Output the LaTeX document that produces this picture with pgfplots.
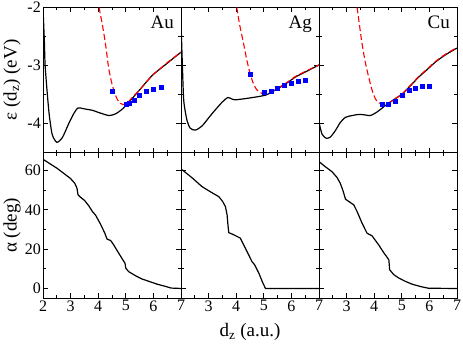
\documentclass[border=0pt]{standalone}
\usepackage{fontspec}
\setmainfont{Liberation Serif}
\usepackage{pgfplots}
\pgfplotsset{compat=1.18}
\usepgfplotslibrary{groupplots}

\pgfplotsset{
  eline/.style={black, line width=1.2pt, smooth, tension=0.4},
  fitline/.style={red, line width=1.1pt, dash pattern=on 6pt off 3pt, smooth, tension=0.4},
  pts/.style={only marks, mark=square*, mark size=2pt, blue, mark options={draw=blue, fill=blue}},
  aline/.style={black, line width=1.2pt},
  toprow/.style={ymin=-4.5, ymax=-2, ytick={-4,-3,-2}, minor y tick num=1},
  botrow/.style={ymin=-5, ymax=69, ytick={0,20,40,60}, minor y tick num=1},
}

\begin{document}
\begin{tikzpicture}
\begin{groupplot}[
  group style={group size=3 by 2, horizontal sep=0pt, vertical sep=0pt,
    xticklabels at=edge bottom, yticklabels at=edge left},
  scale only axis, width=138pt, height=145.5pt,
  xmin=2, xmax=7, xtick={2,...,7}, minor x tick num=1,
  tick align=inside, major tick length=5pt, minor tick length=3pt,
  axis line style={line width=0.8pt},
  every tick/.append style={black, line width=0.7pt},
  ticklabel style={font=\fontsize{16}{16}\selectfont},
  xticklabel style={inner sep=2pt},
  yticklabel style={inner sep=2pt},
  /pgf/number format/assume math mode=true,
  label style={font=\fontsize{19}{19}\selectfont},
]

% ---- Au, energy
\nextgroupplot[toprow, ylabel={ε (d\textsubscript{z}) (eV)},
  ylabel style={at={(axis description cs:-0.225,0.5)}, anchor=center}]
\addplot[eline] coordinates {(1.97,-1.5) (2.0,-2.0) (2.05,-2.6) (2.08,-3.03) (2.21,-3.78) (2.33,-4.18) (2.5,-4.32) (2.7,-4.24) (2.93,-4.0) (3.11,-3.83) (3.27,-3.73) (3.55,-3.75) (3.79,-3.77) (4.03,-3.81) (4.39,-3.86) (4.63,-3.83) (4.87,-3.75) (5.11,-3.63) (5.48,-3.43) (5.96,-3.17) (6.45,-2.98) (7.0,-2.77)};
\addplot[fitline] coordinates {(4.03,-2.0) (4.15,-2.3) (4.27,-2.65) (4.38,-3.05) (4.5,-3.32) (4.6,-3.48) (4.7,-3.59) (4.8,-3.65) (4.9,-3.67) (5.0,-3.66) (5.1,-3.62) (5.25,-3.54) (5.5,-3.42) (5.75,-3.28) (6.0,-3.15) (6.25,-3.05) (6.5,-2.95) (6.75,-2.86) (7.0,-2.77)};
\addplot[pts] coordinates {(4.5,-3.45) (5.0,-3.66) (5.13,-3.65) (5.3,-3.59) (5.5,-3.51) (5.75,-3.44) (6.0,-3.40) (6.3,-3.37)};
\node[anchor=north east, inner sep=0pt, font=\fontsize{19}{19}\selectfont] at (rel axis cs:1,1) [xshift=-7pt, yshift=-8pt] {Au};

% ---- Ag, energy
\nextgroupplot[toprow]
\addplot[eline] coordinates {(2.0,-2.26) (2.05,-3.0) (2.1,-3.61) (2.22,-3.95) (2.34,-4.08) (2.52,-4.11) (2.76,-4.04) (3.12,-3.83) (3.49,-3.63) (3.70,-3.55) (3.86,-3.58) (3.97,-3.59) (4.46,-3.56) (5.06,-3.51) (5.42,-3.42) (5.78,-3.32) (6.14,-3.20) (6.51,-3.11) (7.0,-2.99)};
\addplot[fitline] coordinates {(4.02,-2.0) (4.12,-2.29) (4.27,-2.63) (4.39,-2.92) (4.51,-3.15) (4.63,-3.32) (4.75,-3.42) (4.93,-3.48) (5.06,-3.49) (5.25,-3.46) (5.5,-3.39) (5.78,-3.31) (6.14,-3.19) (6.51,-3.10) (7.0,-2.99)};
\addplot[pts] coordinates {(4.5,-3.15) (5.0,-3.46) (5.25,-3.45) (5.5,-3.39) (5.75,-3.33) (6.0,-3.30) (6.25,-3.27) (6.5,-3.26)};
\node[anchor=north east, inner sep=0pt, font=\fontsize{19}{19}\selectfont] at (rel axis cs:1,1) [xshift=-7pt, yshift=-8pt] {Ag};

% ---- Cu, energy
\nextgroupplot[toprow]
\addplot[eline] coordinates {(2.0,-3.98) (2.11,-4.18) (2.26,-4.25) (2.41,-4.23) (2.59,-4.12) (2.77,-3.98) (2.96,-3.89) (3.20,-3.86) (3.44,-3.84) (3.68,-3.85) (3.86,-3.86) (4.10,-3.80) (4.40,-3.69) (4.70,-3.59) (5.01,-3.49) (5.31,-3.35) (5.61,-3.20) (5.92,-3.07) (6.22,-2.94) (6.57,-2.82) (7.0,-2.70)};
\addplot[fitline] coordinates {(3.38,-2.0) (3.47,-2.32) (3.56,-2.63) (3.68,-2.95) (3.80,-3.20) (3.92,-3.42) (4.04,-3.57) (4.16,-3.64) (4.34,-3.67) (4.5,-3.65) (4.7,-3.59) (5.01,-3.49) (5.31,-3.34) (5.61,-3.19) (5.92,-3.06) (6.22,-2.93) (6.57,-2.81) (7.0,-2.69)};
\addplot[pts] coordinates {(4.3,-3.66) (4.5,-3.66) (4.75,-3.61) (5.0,-3.51) (5.25,-3.43) (5.5,-3.39) (5.75,-3.36) (6.0,-3.35)};
\node[anchor=north east, inner sep=0pt, font=\fontsize{19}{19}\selectfont] at (rel axis cs:1,1) [xshift=-7pt, yshift=-8pt] {Cu};

% ---- Au, angle
\nextgroupplot[botrow, ylabel={α (deg)},
  ylabel style={at={(axis description cs:-0.225,0.5)}, anchor=center}]
\addplot[aline] coordinates {(2.0,65.7) (2.51,61.1) (2.99,56.0) (3.15,53.5) (3.23,51.0) (3.27,47.6) (3.36,46.4) (3.51,44.7) (3.66,42.0) (3.79,39.1) (3.90,37.4) (4.08,32.8) (4.24,28.1) (4.32,25.1) (4.45,24.4) (4.56,22.2) (4.74,18.0) (4.89,14.6) (4.97,12.9) (5.0,10.3) (5.10,8.6) (5.36,6.4) (5.59,4.8) (5.84,3.6) (6.13,2.2) (6.45,1.0) (6.64,0.2) (7.0,0.0)};

% ---- Ag, angle
\nextgroupplot[botrow, xticklabels={,3,4,5,6,7},
  xlabel={d\textsubscript{z} (a.u.)},
  xlabel style={at={(axis description cs:0.5,-0.15)}, anchor=north}]
\addplot[aline] coordinates {(2.0,60.8) (2.40,56.3) (2.76,51.8) (3.12,48.7) (3.37,46.7) (3.51,44.2) (3.61,41.6) (3.67,37.4) (3.70,32.3) (3.73,28.4) (3.91,27.3) (4.15,25.6) (4.33,20.5) (4.57,13.7) (4.67,12.0) (4.82,7.8) (4.94,3.6) (5.06,0.0) (7.0,0.0)};

% ---- Cu, angle
\nextgroupplot[botrow, xticklabels={,3,4,5,6,7}]
\addplot[aline] coordinates {(2.0,64.5) (2.23,61.9) (2.47,59.4) (2.65,56.5) (2.77,53.5) (2.86,50.1) (2.96,45.4) (3.26,42.5) (3.38,39.1) (3.56,33.2) (3.74,28.1) (3.92,26.8) (4.16,22.2) (4.34,18.3) (4.53,14.6) (4.56,9.5) (4.71,7.0) (4.89,5.3) (5.13,3.6) (5.37,2.2) (5.67,1.0) (5.97,0.1) (7.0,0.0)};
\end{groupplot}
\end{tikzpicture}
\end{document}
